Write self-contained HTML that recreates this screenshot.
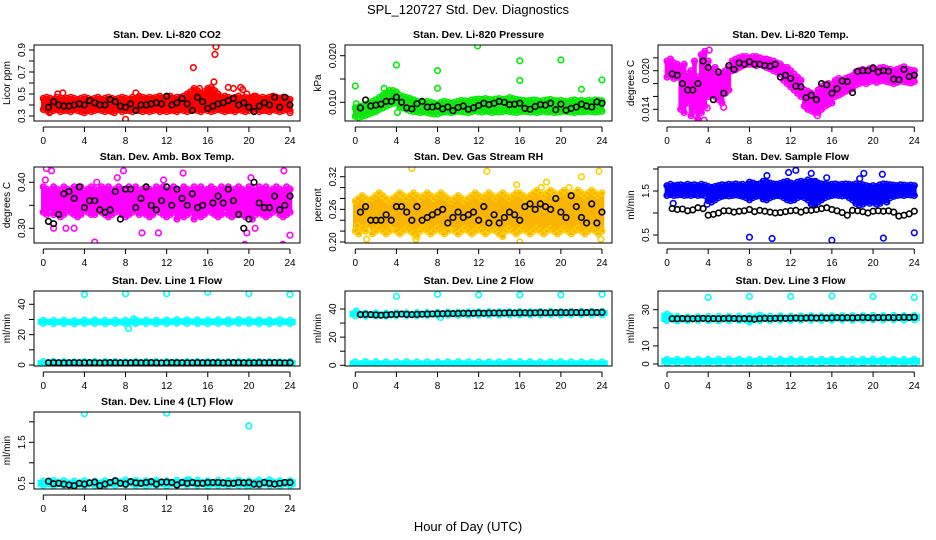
<!DOCTYPE html>
<html><head><meta charset="utf-8"><style>
html,body{margin:0;padding:0;background:#fff;}
svg{display:block;font-family:"Liberation Sans",sans-serif;}
</style></head><body>
<svg id="chart" width="936" height="540" viewBox="0 0 936 540" xmlns="http://www.w3.org/2000/svg">
<rect width="936" height="540" fill="#fff"/>
<text x="468" y="14" text-anchor="middle" font-size="13">SPL_120727  Std. Dev. Diagnostics</text>
<text x="468" y="531" text-anchor="middle" font-size="13">Hour of Day (UTC)</text>
</svg>
<script>
const xTickValues=[0,4,8,12,16,20,24];
const blackHours=[0.5,1,1.5,2,2.5,3,3.5,4,4.5,5,5.5,6,6.5,7,7.5,8,8.5,9,9.5,10,10.5,11,11.5,12,12.5,13,13.5,14,14.5,15,15.5,16,16.5,17,17.5,18,18.5,19,19.5,20,20.5,21,21.5,22,22.5,23,23.5,24];

const co2Lo=[0.36,0.35,0.34,0.35,0.36,0.34,0.35,0.35,0.34,0.36,0.35,0.34,0.33,0.35,0.34,0.35,0.36,0.35,0.34,0.35,0.34,0.35,0.36,0.34,0.35,0.35,0.34,0.36,0.35,0.34,0.35,0.34,0.35,0.36,0.34,0.35,0.34,0.35,0.35,0.34,0.36,0.35,0.34,0.35,0.36,0.35,0.34,0.36,0.35,0.34,0.35,0.36,0.35,0.34,0.35,0.35,0.34,0.36,0.35,0.34,0.35,0.36,0.35,0.34,0.35,0.35,0.34,0.36,0.35,0.34,0.35,0.36,0.35];
const co2Hi=[0.46,0.47,0.46,0.45,0.47,0.46,0.45,0.46,0.47,0.46,0.45,0.46,0.47,0.46,0.45,0.46,0.47,0.45,0.46,0.47,0.46,0.45,0.46,0.47,0.46,0.45,0.47,0.46,0.48,0.47,0.46,0.47,0.46,0.47,0.48,0.46,0.47,0.48,0.46,0.47,0.47,0.48,0.50,0.52,0.55,0.53,0.50,0.52,0.55,0.56,0.53,0.50,0.47,0.48,0.47,0.46,0.47,0.48,0.46,0.47,0.46,0.47,0.48,0.46,0.47,0.46,0.47,0.48,0.47,0.46,0.47,0.46,0.45];
const co2Black=[0.38,0.43,0.40,0.39,0.39,0.40,0.41,0.40,0.44,0.42,0.40,0.40,0.45,0.43,0.39,0.38,0.41,0.35,0.40,0.40,0.41,0.42,0.41,0.48,0.40,0.42,0.46,0.41,0.35,0.47,0.43,0.37,0.39,0.41,0.42,0.44,0.46,0.40,0.42,0.38,0.34,0.39,0.42,0.40,0.47,0.38,0.47,0.40];
const co2OutX=[14.6,16.6,16.7,16.8,8.0,1.4,1.9,9.0,15.2,18.0,18.5,19.2,19.4,19.8,24.0,0.6,6.9,20.5];
const co2OutY=[0.74,0.61,0.86,0.93,0.27,0.50,0.51,0.51,0.55,0.56,0.55,0.56,0.54,0.50,0.33,0.33,0.33,0.48];

const presLo=[0.0070,0.0068,0.0070,0.0072,0.0075,0.0078,0.0080,0.0085,0.0088,0.0092,0.0095,0.0098,0.0100,0.0090,0.0088,0.0085,0.0082,0.0080,0.0080,0.0078,0.0080,0.0078,0.0076,0.0075,0.0075,0.0078,0.0080,0.0079,0.0078,0.0080,0.0081,0.0080,0.0079,0.0078,0.0080,0.0082,0.0080,0.0079,0.0081,0.0080,0.0078,0.0080,0.0079,0.0080,0.0082,0.0080,0.0079,0.0078,0.0080,0.0081,0.0080,0.0079,0.0080,0.0078,0.0080,0.0081,0.0079,0.0080,0.0078,0.0079,0.0080,0.0081,0.0080,0.0079,0.0078,0.0080,0.0079,0.0080,0.0081,0.0080,0.0079,0.0080,0.0081];
const presHi=[0.0088,0.0090,0.0092,0.0095,0.0098,0.0102,0.0105,0.0110,0.0115,0.0120,0.0125,0.0125,0.0122,0.0115,0.0112,0.0110,0.0108,0.0105,0.0102,0.0100,0.0100,0.0102,0.0100,0.0098,0.0096,0.0100,0.0102,0.0100,0.0098,0.0100,0.0102,0.0104,0.0103,0.0102,0.0105,0.0106,0.0107,0.0106,0.0108,0.0106,0.0105,0.0107,0.0108,0.0106,0.0107,0.0110,0.0108,0.0106,0.0105,0.0104,0.0103,0.0104,0.0105,0.0104,0.0102,0.0104,0.0105,0.0106,0.0104,0.0103,0.0104,0.0102,0.0101,0.0104,0.0105,0.0103,0.0104,0.0102,0.0104,0.0103,0.0105,0.0104,0.0103];
const presBlack=[0.0088,0.0105,0.0092,0.0094,0.0096,0.0102,0.0102,0.0111,0.0100,0.0088,0.0086,0.0097,0.0102,0.0090,0.0090,0.0092,0.0086,0.0090,0.0082,0.0089,0.0092,0.0085,0.0088,0.0093,0.0098,0.0095,0.0098,0.0102,0.0100,0.0095,0.0096,0.0098,0.0087,0.0085,0.0091,0.0095,0.0094,0.0098,0.0084,0.0096,0.0083,0.0087,0.0090,0.0096,0.0092,0.0090,0.0101,0.0098];
const presOutX=[0,0.1,4.0,4.1,8.0,8.0,11.9,16.0,16.0,20.0,24.0,2.8,22.0];
const presOutY=[0.0135,0.0097,0.0180,0.0078,0.0168,0.0130,0.0221,0.0189,0.0147,0.0191,0.0148,0.0130,0.0128];

const tempLo=[0.0190,0.0192,0.0188,0.0190,0.0140,0.0135,0.0150,0.0130,0.0140,0.0125,0.0135,0.0145,0.0160,0.0165,0.0160,0.0155,0.0150,0.0165,0.0170,0.0200,0.0202,0.0205,0.0208,0.0210,0.0210,0.0210,0.0208,0.0210,0.0208,0.0205,0.0203,0.0200,0.0198,0.0195,0.0185,0.0180,0.0175,0.0170,0.0165,0.0160,0.0145,0.0140,0.0138,0.0135,0.0135,0.0140,0.0145,0.0148,0.0150,0.0160,0.0162,0.0165,0.0168,0.0170,0.0172,0.0178,0.0180,0.0182,0.0180,0.0183,0.0185,0.0182,0.0184,0.0185,0.0183,0.0182,0.0180,0.0182,0.0184,0.0183,0.0182,0.0181,0.0183];
const tempHi=[0.0215,0.0218,0.0212,0.0210,0.0205,0.0210,0.0195,0.0200,0.0215,0.0190,0.0225,0.0230,0.0215,0.0200,0.0205,0.0198,0.0195,0.0200,0.0205,0.0215,0.0218,0.0220,0.0222,0.0222,0.0220,0.0222,0.0222,0.0220,0.0218,0.0218,0.0216,0.0215,0.0212,0.0210,0.0205,0.0205,0.0200,0.0195,0.0190,0.0185,0.0170,0.0168,0.0165,0.0162,0.0170,0.0175,0.0178,0.0180,0.0178,0.0185,0.0188,0.0185,0.0188,0.0190,0.0192,0.0198,0.0200,0.0202,0.0200,0.0203,0.0205,0.0202,0.0204,0.0205,0.0203,0.0202,0.0200,0.0202,0.0204,0.0206,0.0202,0.0201,0.0200];
const tempBlack=[0.0195,0.0193,0.0180,0.0170,0.0170,0.0180,0.0215,0.0205,0.0155,0.0198,0.0165,0.0208,0.0202,0.0212,0.0210,0.0214,0.0210,0.0210,0.0208,0.0207,0.0210,0.0190,0.0193,0.0188,0.0176,0.0175,0.0158,0.0162,0.0155,0.0180,0.0178,0.0165,0.0172,0.0184,0.0183,0.0166,0.0199,0.0200,0.0200,0.0204,0.0198,0.0200,0.0199,0.0187,0.0186,0.0202,0.0191,0.0193];
const tempOutX=[3.6,2.8,4.1,1.7,5.5,14.6,3.9];
const tempOutY=[0.0123,0.0130,0.0232,0.0148,0.0143,0.0130,0.0142];

const ambLo=[0.335,0.33,0.34,0.33,0.335,0.325,0.33,0.34,0.335,0.33,0.325,0.33,0.34,0.335,0.33,0.33,0.34,0.335,0.33,0.325,0.33,0.335,0.34,0.33,0.325,0.33,0.335,0.34,0.33,0.335,0.33,0.325,0.33,0.34,0.335,0.33,0.325,0.33,0.335,0.32,0.33,0.325,0.33,0.335,0.32,0.33,0.325,0.33,0.34,0.335,0.33,0.325,0.33,0.34,0.33,0.325,0.33,0.335,0.33,0.325,0.33,0.32,0.33,0.335,0.33,0.325,0.33,0.335,0.34,0.33,0.325,0.33,0.335];
const ambHi=[0.39,0.385,0.38,0.39,0.385,0.38,0.39,0.385,0.38,0.39,0.385,0.39,0.38,0.385,0.39,0.385,0.38,0.39,0.385,0.39,0.38,0.385,0.39,0.385,0.38,0.39,0.385,0.39,0.38,0.385,0.39,0.385,0.38,0.39,0.385,0.39,0.38,0.385,0.39,0.385,0.38,0.39,0.385,0.38,0.39,0.385,0.39,0.38,0.385,0.39,0.385,0.38,0.39,0.385,0.39,0.38,0.385,0.39,0.385,0.38,0.39,0.385,0.38,0.39,0.385,0.39,0.38,0.385,0.39,0.385,0.38,0.39,0.385];
const ambBlack=[0.315,0.31,0.33,0.375,0.38,0.365,0.39,0.345,0.36,0.36,0.34,0.335,0.34,0.38,0.32,0.385,0.385,0.345,0.365,0.39,0.35,0.34,0.36,0.39,0.35,0.385,0.365,0.35,0.375,0.345,0.35,0.255,0.355,0.37,0.355,0.385,0.36,0.33,0.30,0.32,0.40,0.355,0.345,0.345,0.37,0.34,0.35,0.37];
const ambOutX=[0.3,0.8,1.0,2.2,3.0,5.0,5.2,7.8,9.6,11.2,13.6,19.6,19.8,20.2,20.6,23.3,23.4,24.0,0.2,7.2,11.7];
const ambOutY=[0.43,0.425,0.30,0.30,0.30,0.27,0.40,0.425,0.29,0.29,0.42,0.265,0.29,0.41,0.30,0.265,0.425,0.285,0.405,0.41,0.405];

const rhLo=[0.22,0.215,0.225,0.22,0.23,0.215,0.22,0.225,0.22,0.215,0.22,0.23,0.22,0.215,0.22,0.225,0.22,0.215,0.21,0.22,0.225,0.22,0.215,0.22,0.225,0.22,0.215,0.22,0.23,0.22,0.215,0.22,0.225,0.22,0.215,0.22,0.225,0.22,0.215,0.22,0.225,0.22,0.215,0.21,0.22,0.225,0.22,0.215,0.22,0.225,0.22,0.215,0.22,0.225,0.22,0.215,0.22,0.225,0.22,0.215,0.22,0.225,0.22,0.215,0.22,0.225,0.22,0.215,0.22,0.225,0.22,0.215,0.22];
const rhHi=[0.275,0.28,0.285,0.28,0.275,0.28,0.285,0.29,0.285,0.28,0.275,0.28,0.285,0.29,0.285,0.28,0.285,0.29,0.285,0.28,0.285,0.29,0.285,0.28,0.285,0.29,0.285,0.28,0.275,0.28,0.285,0.28,0.275,0.28,0.285,0.29,0.285,0.28,0.285,0.29,0.285,0.28,0.285,0.29,0.285,0.28,0.285,0.29,0.29,0.285,0.28,0.285,0.29,0.295,0.29,0.285,0.29,0.295,0.29,0.285,0.29,0.295,0.29,0.285,0.29,0.295,0.29,0.285,0.29,0.295,0.29,0.285,0.29];
const rhBlack=[0.255,0.265,0.24,0.24,0.24,0.25,0.24,0.265,0.265,0.255,0.24,0.265,0.24,0.245,0.25,0.255,0.26,0.235,0.245,0.255,0.245,0.25,0.255,0.24,0.265,0.235,0.25,0.235,0.245,0.255,0.25,0.24,0.265,0.27,0.26,0.27,0.265,0.26,0.28,0.255,0.245,0.285,0.265,0.245,0.235,0.27,0.235,0.255];
const rhOutX=[5.5,12.8,15.7,18.1,18.6,20.8,23.7,1.1,0.2,5.9,16.0,23.9,2.3,22.0];
const rhOutY=[0.335,0.33,0.305,0.30,0.31,0.30,0.33,0.205,0.23,0.205,0.20,0.205,0.29,0.32];

const flowLo=[1.40,1.42,1.40,1.41,1.42,1.40,1.41,1.40,1.42,1.40,1.41,1.40,1.28,1.25,1.30,1.35,1.38,1.40,1.39,1.40,1.41,1.40,1.38,1.35,1.30,1.35,1.38,1.40,1.32,1.30,1.35,1.38,1.40,1.39,1.35,1.30,1.28,1.30,1.35,1.38,1.35,1.30,1.20,1.18,1.25,1.30,1.35,1.38,1.40,1.41,1.40,1.39,1.40,1.35,1.30,1.22,1.18,1.20,1.25,1.22,1.25,1.20,1.22,1.30,1.25,1.35,1.38,1.40,1.41,1.40,1.42,1.41,1.40];
const flowHi=[1.62,1.65,1.62,1.63,1.64,1.62,1.65,1.63,1.64,1.62,1.65,1.63,1.60,1.58,1.60,1.62,1.64,1.63,1.65,1.64,1.66,1.64,1.65,1.63,1.70,1.68,1.65,1.66,1.72,1.70,1.68,1.66,1.65,1.67,1.70,1.72,1.68,1.66,1.70,1.72,1.70,1.75,1.72,1.70,1.68,1.66,1.65,1.64,1.65,1.66,1.64,1.65,1.66,1.65,1.64,1.66,1.65,1.64,1.62,1.60,1.62,1.60,1.64,1.66,1.65,1.64,1.63,1.62,1.64,1.63,1.62,1.63,1.62];
const flowBlack=[1.10,1.08,1.09,1.05,1.07,1.12,1.10,0.95,0.97,1.00,1.05,1.05,1.02,1.04,1.05,1.08,1.03,1.06,1.04,1.02,1.00,1.01,1.03,1.05,1.06,1.02,1.06,1.06,1.08,1.10,1.12,1.08,1.05,1.01,0.95,1.06,1.05,1.03,1.00,1.04,1.05,1.04,1.05,1.02,0.93,0.95,0.98,1.04];
const flowOutX=[8.0,10.2,16.0,21.0,24.0,0.6,3.9,11.8,12.5,14.0,14.4,18.7,19.1,20.9,9.7,15.5,13.9];
const flowOutY=[0.45,0.42,0.38,0.43,0.55,1.22,1.20,1.92,1.97,1.90,1.72,1.78,1.90,1.88,1.85,1.80,1.70];

const line1UpperLo=[27.5,27.3,27.4,27.2,27.5,27.4,27.3,27.5,27.2,27.4,27.5,27.3,27.4,27.6,27.5,27.4,27.3,27.5,27.4,27.6,27.5,27.4,27.3,27.5,27.4];
const line1UpperHi=[29.5,29.3,29.4,29.2,29.5,29.6,29.3,29.5,29.4,29.6,29.5,29.4,29.6,29.8,29.7,29.6,29.5,29.7,29.6,29.8,29.7,29.6,29.5,29.7,29.4];
const line1LowerLo=[0.6,0.5,0.6,0.7,0.6,0.5,0.6,0.6,0.5,0.6,0.7,0.6,0.5,0.6,0.6,0.5,0.6,0.7,0.6,0.5,0.6,0.6,0.5,0.6,0.6];
const line1LowerHi=[2.2,2.3,2.2,2.1,2.2,2.3,2.2,2.2,2.1,2.2,2.3,2.2,2.2,2.1,2.2,2.3,2.2,2.2,2.1,2.2,2.3,2.2,2.2,2.1,2.2];
const line1Black=[1.5,1.6,1.5,1.4,1.5,1.6,1.5,1.5,1.6,1.5,1.4,1.5,1.6,1.5,1.5,1.4,1.5,1.6,1.5,1.5,1.6,1.5,1.4,1.5,1.6,1.5,1.5,1.4,1.5,1.6,1.5,1.5,1.6,1.5,1.4,1.5,1.6,1.5,1.5,1.4,1.5,1.6,1.5,1.5,1.6,1.5,1.4,1.5];
const line1OutX=[4,8,12,16,20,24,8.3,8.8];
const line1OutY=[46.5,47,47,48,47,46.5,24,30.5];

const line2UpperLo=[35.2,35.0,35.1,35.0,35.2,35.3,35.2,35.4,35.5,35.6,35.5,35.6,35.7,35.8,35.7,35.8,35.9,35.8,35.9,36.0,35.9,36.0,36.1,36.0,36.0];
const line2UpperHi=[37.5,37.0,37.2,37.0,37.3,37.2,37.4,37.5,37.6,37.8,37.7,37.8,38.0,38.1,38.0,38.1,38.2,38.1,38.2,38.3,38.2,38.3,38.4,38.3,38.2];
const line2LowerLo=[0.4,0.5,0.4,0.3,0.4,0.5,0.4,0.4,0.3,0.4,0.5,0.4,0.4,0.3,0.4,0.5,0.4,0.4,0.3,0.4,0.5,0.4,0.4,0.3,0.4];
const line2LowerHi=[2.4,2.5,2.4,2.3,2.4,2.5,2.4,2.4,2.3,2.4,2.5,2.4,2.4,2.3,2.4,2.5,2.4,2.4,2.3,2.4,2.5,2.4,2.4,2.3,2.4];
const line2Black=[36.0,36.2,36.0,35.8,35.6,35.8,36.0,36.2,36.4,36.2,36.0,36.2,36.3,36.4,36.5,36.6,36.6,36.8,36.7,36.8,37.0,36.9,37.0,37.1,37.0,37.1,37.2,37.1,37.2,37.3,37.2,37.3,37.3,37.2,37.3,37.4,37.3,37.4,37.4,37.5,37.4,37.5,37.5,37.4,37.5,37.6,37.5,37.6];
const line2OutX=[0.1,4,8,12,16,20,24,8.3];
const line2OutY=[38.5,49,50.5,50,50,50,50.5,34];

const line3UpperLo=[24.0,23.8,24.0,24.1,24.0,23.9,24.0,24.1,23.2,24.0,24.1,24.2,24.1,24.2,24.3,24.2,24.3,24.4,24.3,24.4,24.5,24.4,24.5,24.4,24.5];
const line3UpperHi=[27.5,26.2,26.0,26.1,26.2,26.3,26.2,26.3,26.4,27.0,26.4,26.5,26.4,26.5,26.6,26.5,26.6,26.7,26.6,26.7,26.8,26.7,26.8,26.7,26.8];
const line3LowerLo=[0.5,0.6,0.5,0.4,0.5,0.6,0.5,0.5,0.4,0.5,0.6,0.5,0.5,0.4,0.5,0.6,0.5,0.5,0.4,0.5,0.6,0.5,0.5,0.4,0.5];
const line3LowerHi=[2.5,2.6,2.5,2.4,2.5,2.6,2.5,2.5,2.4,2.5,2.6,2.5,2.5,2.4,2.5,2.6,2.5,2.5,2.4,2.5,2.6,2.5,2.5,2.4,2.5];
const line3Black=[25.0,25.0,25.1,25.0,25.0,25.1,25.2,25.0,25.1,25.0,25.1,25.2,25.1,25.0,25.1,25.0,24.8,25.1,25.2,25.1,25.2,25.3,25.2,25.3,25.4,25.3,25.4,25.5,25.4,25.5,25.4,25.5,25.6,25.5,25.6,25.5,25.6,25.7,25.6,25.5,25.7,25.6,25.7,25.6,25.7,25.8,25.7,25.8];
const line3OutX=[4,8,12,16,20,24];
const line3OutY=[36.8,37.3,37.3,37.6,37.3,36.8];

const line4Lo=[0.45,0.44,0.45,0.43,0.44,0.45,0.44,0.45,0.46,0.45,0.44,0.45,0.44,0.45,0.46,0.45,0.44,0.45,0.44,0.45,0.43,0.44,0.45,0.44,0.45];
const line4Hi=[0.55,0.57,0.56,0.55,0.56,0.55,0.56,0.57,0.58,0.57,0.56,0.57,0.56,0.57,0.58,0.57,0.56,0.57,0.56,0.57,0.56,0.57,0.58,0.56,0.56];
const line4Black=[0.55,0.49,0.50,0.48,0.46,0.44,0.50,0.48,0.51,0.53,0.44,0.48,0.52,0.56,0.50,0.48,0.54,0.51,0.50,0.52,0.54,0.48,0.53,0.53,0.52,0.46,0.52,0.50,0.52,0.50,0.50,0.52,0.52,0.52,0.51,0.50,0.50,0.52,0.51,0.52,0.48,0.48,0.52,0.50,0.48,0.50,0.52,0.52];
const line4OutX=[4,12,20,14.2,19.9];
const line4OutY=[2.2,2.21,1.9,0.58,0.42];

const NS='http://www.w3.org/2000/svg';
const svg=document.getElementById('chart');
function mk(tag,attrs,parent){const e=document.createElementNS(NS,tag);for(const k in attrs)e.setAttribute(k,attrs[k]);(parent||svg).appendChild(e);return e;}

const cols=[{l:34,r:300,x0:43.3,x24:290},{l:345,r:612,x0:355.3,x24:602},{l:658,r:923,x0:667,x24:914.3}];
const rows=[{t:45,b:121},{t:167,b:243},{t:291,b:366},{t:412,b:489}];

const panels=[
{name:'co2',title:'Stan. Dev. Li-820 CO2',c:0,r:0,ylab:'Licor ppm',cal:[0.3,116,0.9,50],ticks:[0.3,0.4,0.5,0.6,0.7,0.8,0.9],labels:['0.3','','0.5','','0.7','','0.9'],
 bands:[{lo:co2Lo,hi:co2Hi,color:'#ff0000',fill:'#ff0000'}],black:co2Black,outX:co2OutX,outY:co2OutY,outColor:'#ff0000'},
{name:'pressure',title:'Stan. Dev. Li-820 Pressure',c:1,r:0,ylab:'kPa',cal:[0.010,102.3,0.020,55.7],ticks:[0.010,0.015,0.020],labels:['0.010','','0.020'],
 bands:[{lo:presLo,hi:presHi,color:'#00ee00',fill:'#22dd22'}],black:presBlack,outX:presOutX,outY:presOutY,outColor:'#00ee00'},
{name:'temp',title:'Stan. Dev. Li-820 Temp.',c:2,r:0,ylab:'degrees C',cal:[0.014,109.3,0.020,70.7],ticks:[0.014,0.016,0.018,0.020,0.022],labels:['0.014','','','0.020',''],
 bands:[{lo:tempLo,hi:tempHi,color:'#ff00ff',fill:'#ff00ff'}],black:tempBlack,outX:tempOutX,outY:tempOutY,outColor:'#ff00ff'},
{name:'amb-box-temp',title:'Stan. Dev. Amb. Box Temp.',c:0,r:1,ylab:'degrees C',cal:[0.30,228.3,0.40,182.3],ticks:[0.30,0.35,0.40],labels:['0.30','','0.40'],
 bands:[{lo:ambLo,hi:ambHi,color:'#ff00ff',fill:'#ff00ff'}],black:ambBlack,outX:ambOutX,outY:ambOutY,outColor:'#ff00ff'},
{name:'gas-stream-rh',title:'Stan. Dev. Gas Stream RH',c:1,r:1,ylab:'percent',cal:[0.20,242,0.32,176.7],ticks:[0.20,0.22,0.24,0.26,0.28,0.30,0.32],labels:['0.20','','','0.26','','','0.32'],
 bands:[{lo:rhLo,hi:rhHi,color:'#ffcc00',fill:'#f8b400'}],black:rhBlack,outX:rhOutX,outY:rhOutY,outColor:'#ffcc00'},
{name:'sample-flow',title:'Stan. Dev. Sample Flow',c:2,r:1,ylab:'ml/min',cal:[0.5,235,1.5,191],ticks:[0.5,1.0,1.5,2.0],labels:['0.5','','1.5',''],
 bands:[{lo:flowLo,hi:flowHi,color:'#0000ff',fill:'#0000ff'}],black:flowBlack,outX:flowOutX,outY:flowOutY,outColor:'#0000ff'},
{name:'line1-flow',title:'Stan. Dev. Line 1 Flow',c:0,r:2,ylab:'ml/min',cal:[0,365,40,304.3],ticks:[0,10,20,30,40],labels:['0','','20','','40'],
 bands:[{lo:line1UpperLo,hi:line1UpperHi,color:'#00ffff',fill:'#00ffff'},{lo:line1LowerLo,hi:line1LowerHi,color:'#00ffff',fill:'#00ffff'}],black:line1Black,outX:line1OutX,outY:line1OutY,outColor:'#00ffff'},
{name:'line2-flow',title:'Stan. Dev. Line 2 Flow',c:1,r:2,ylab:'ml/min',cal:[0,365.3,40,309],ticks:[0,10,20,30,40],labels:['0','','20','','40'],
 bands:[{lo:line2UpperLo,hi:line2UpperHi,color:'#00ffff',fill:'#00ffff'},{lo:line2LowerLo,hi:line2LowerHi,color:'#00ffff',fill:'#00ffff'}],black:line2Black,outX:line2OutX,outY:line2OutY,outColor:'#00ffff'},
{name:'line3-flow',title:'Stan. Dev. Line 3 Flow',c:2,r:2,ylab:'ml/min',cal:[0,364,30,309.7],ticks:[0,10,20,30],labels:['0','10','','30'],
 bands:[{lo:line3UpperLo,hi:line3UpperHi,color:'#00ffff',fill:'#00ffff'},{lo:line3LowerLo,hi:line3LowerHi,color:'#00ffff',fill:'#00ffff'}],black:line3Black,outX:line3OutX,outY:line3OutY,outColor:'#00ffff'},
{name:'line4-flow',title:'Stan. Dev. Line 4 (LT) Flow',c:0,r:3,ylab:'ml/min',cal:[0.5,483.3,1.5,442.3],ticks:[0.5,1.0,1.5,2.0],labels:['0.5','','1.5',''],
 bands:[{lo:line4Lo,hi:line4Hi,color:'#00ffff',fill:'#00ffff'}],black:line4Black,outX:line4OutX,outY:line4OutY,outColor:'#00ffff'}
];

panels.forEach(p=>{
  const C=cols[p.c],R=rows[p.r];
  const xs=h=>C.x0+h*(C.x24-C.x0)/24;
  const ys=v=>p.cal[1]+(v-p.cal[0])*(p.cal[3]-p.cal[1])/(p.cal[2]-p.cal[0]);
  const g=mk('g',{});
  
  
  const clip=mk('clipPath',{id:'clip-'+p.name},g);
  mk('rect',{x:C.l,y:R.t,width:C.r-C.l,height:R.b-R.t},clip);
  const title=mk('text',{x:(C.l+C.r)/2,y:R.t-7,'text-anchor':'middle','font-size':'10.5','font-weight':'bold'},g);
  title.textContent=p.title;
  
  
  const marks=mk('g',{'clip-path':'url(#clip-'+p.name+')'},g);
  p.bands.forEach((b,bi)=>{
    const n=b.lo.length, w=(C.x24-C.x0)/(n-1)+1.2;
    for(let i=0;i<n;i++){
      const h=i*24/(n-1), x=xs(h);
      const seg=mk('line',{x1:x,x2:x,y1:ys(b.lo[i])+1.5,y2:ys(b.hi[i])-1.5,stroke:b.fill,'stroke-width':w},marks);
      
      
      [b.lo[i],b.hi[i]].forEach(v=>{
        const c=mk('circle',{cx:x,cy:ys(v),r:2.8,fill:'none',stroke:b.color,'stroke-width':1.6},marks);
        
        
      });
    }
  });
  p.outX.forEach((h,i)=>{
    const c=mk('circle',{cx:xs(h),cy:ys(p.outY[i]),r:2.8,fill:'none',stroke:p.outColor,'stroke-width':1.6},marks);
    
    
  });
  p.black.forEach((v,i)=>{
    const c=mk('circle',{cx:xs(blackHours[i]),cy:ys(v),r:2.8,fill:'none',stroke:'#000','stroke-width':1.6},marks);
    
    
  });
  const box=mk('rect',{x:C.l,y:R.t,width:C.r-C.l,height:R.b-R.t,fill:'none',stroke:'#000','stroke-width':1},g);
  
  
  const ay=R.b+6;
  const xa=mk('line',{x1:xs(0),x2:xs(24),y1:ay,y2:ay,stroke:'#000'},g);
  
  
  xTickValues.forEach(t=>{
    mk('line',{x1:xs(t),x2:xs(t),y1:ay,y2:ay+5,stroke:'#000'},g);
    const tl=mk('text',{x:xs(t),y:ay+17,'text-anchor':'middle','font-size':'10'},g);
    tl.textContent=String(t);
    
    
  });
  p.ticks.forEach((t,i)=>{
    const y=ys(t);
    mk('line',{x1:C.l-5,x2:C.l,y1:y,y2:y,stroke:'#000'},g);
    if(p.labels[i]){
      const tl=mk('text',{x:0,y:0,'text-anchor':'middle','font-size':'10',transform:'translate('+(C.l-9)+','+y+') rotate(-90)'},g);
      tl.textContent=p.labels[i];
      
      
    }
  });
  const yl=mk('text',{x:0,y:0,'text-anchor':'middle','font-size':'10',transform:'translate('+(C.l-24)+','+((R.t+R.b)/2)+') rotate(-90)'},g);
  yl.textContent=p.ylab;
  
  
});
</script>
</body></html>
